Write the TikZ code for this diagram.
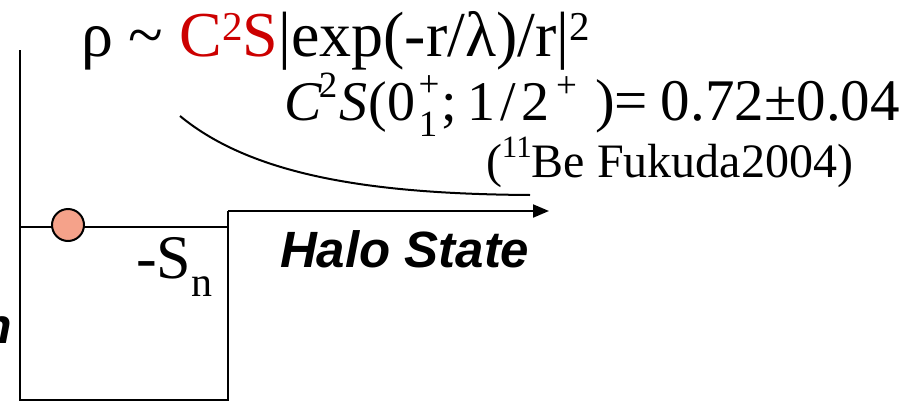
\documentclass[tikz,border=0pt]{standalone}
\usepackage{fontspec}
\setmainfont{Liberation Serif}
\setsansfont{Liberation Sans}
\usetikzlibrary{arrows.meta}
\definecolor{ballfill}{RGB}{245,162,138}
\definecolor{redc}{RGB}{204,0,0}
\newcommand{\fsz}[1]{\fontsize{#1}{#1}\selectfont}
\newcommand{\gb}[3][c]{\makebox[#2pt][#1]{#3}}
\begin{document}
\begin{tikzpicture}[x=1pt,y=-1pt, line width=2pt,
  txt/.style={inner sep=0pt, anchor=base west},
  wall/.style={draw=black, line width=2pt},
  ]
\clip (0,0) rectangle (914,402);
% potential well
\coordinate (lt) at (20,50);
\coordinate (lb) at (20,400);
\coordinate (rb) at (228,400);
\coordinate (rt) at (228,211);
\coordinate (axisend) at (549,211);
\coordinate (lvlL) at (20,227);
\coordinate (lvlR) at (228,227);
\draw[wall] (lt) -- (lb) -- (rb) -- (rt);
\draw[wall, -{Triangle[length=16pt,width=13pt]}] (rt) -- (axisend);
\draw[wall] (lvlL) -- (lvlR);
\node[circle, draw, line width=2pt, fill=ballfill, minimum size=32pt, inner sep=0pt] (ball) at (68,225) {};
% labels
\node[txt] (rho) at (80,56) {\fsz{64}ρ \textasciitilde\ \textcolor{redc}{C\raisebox{16pt}{\fsz{41}2}S}|exp(-r/λ)/r|\raisebox{16pt}{\fsz{41}2}};
\node[txt] (cs) at (283,120) {\fsz{56}%
  \gb[l]{35}{\textit{C}}%
  \gb{18}{\raisebox{0.4em}{\fsz{37}2}}%
  \gb{32}{\textit{S}}%
  \gb{18}{(}%
  \gb{30}{0}%
  \gb{24}{\raisebox{0.42em}{\fsz{37}+}\llap{\raisebox{-0.3em}{\fsz{37}1\hspace{2pt}}}}%
  \gb[l]{26}{;}%
  \gb{30}{1}%
  \gb{22}{/}%
  \gb{34}{2}%
  \hspace{3pt}\raisebox{0.4em}{\fsz{37}+}};
\node[txt] (val) at (594,120) {\fsz{59})=\hspace{13pt}0.72±0.04};
\node[txt] (ref) at (485,177) {\fsz{48}(\raisebox{0.4em}{\fsz{31}11}Be Fukuda2004)};
\node[txt] (sn) at (135,278) {\fsz{62}-S\raisebox{-0.3em}{\fsz{42}n}};
\node[txt] (halo) at (279,267) {\fsz{51}\sffamily\bfseries\itshape Halo State};
\node[inner sep=0pt, anchor=base east] (cut) at (13,343) {\fsz{50}\sffamily\bfseries\itshape n};
% decay curve
\coordinate (c0) at (180,116);
\coordinate (c1) at (530,195);
\draw[line width=2pt] (c0) .. controls (255,178) and (380,194) .. (c1);
\end{tikzpicture}
\end{document}
